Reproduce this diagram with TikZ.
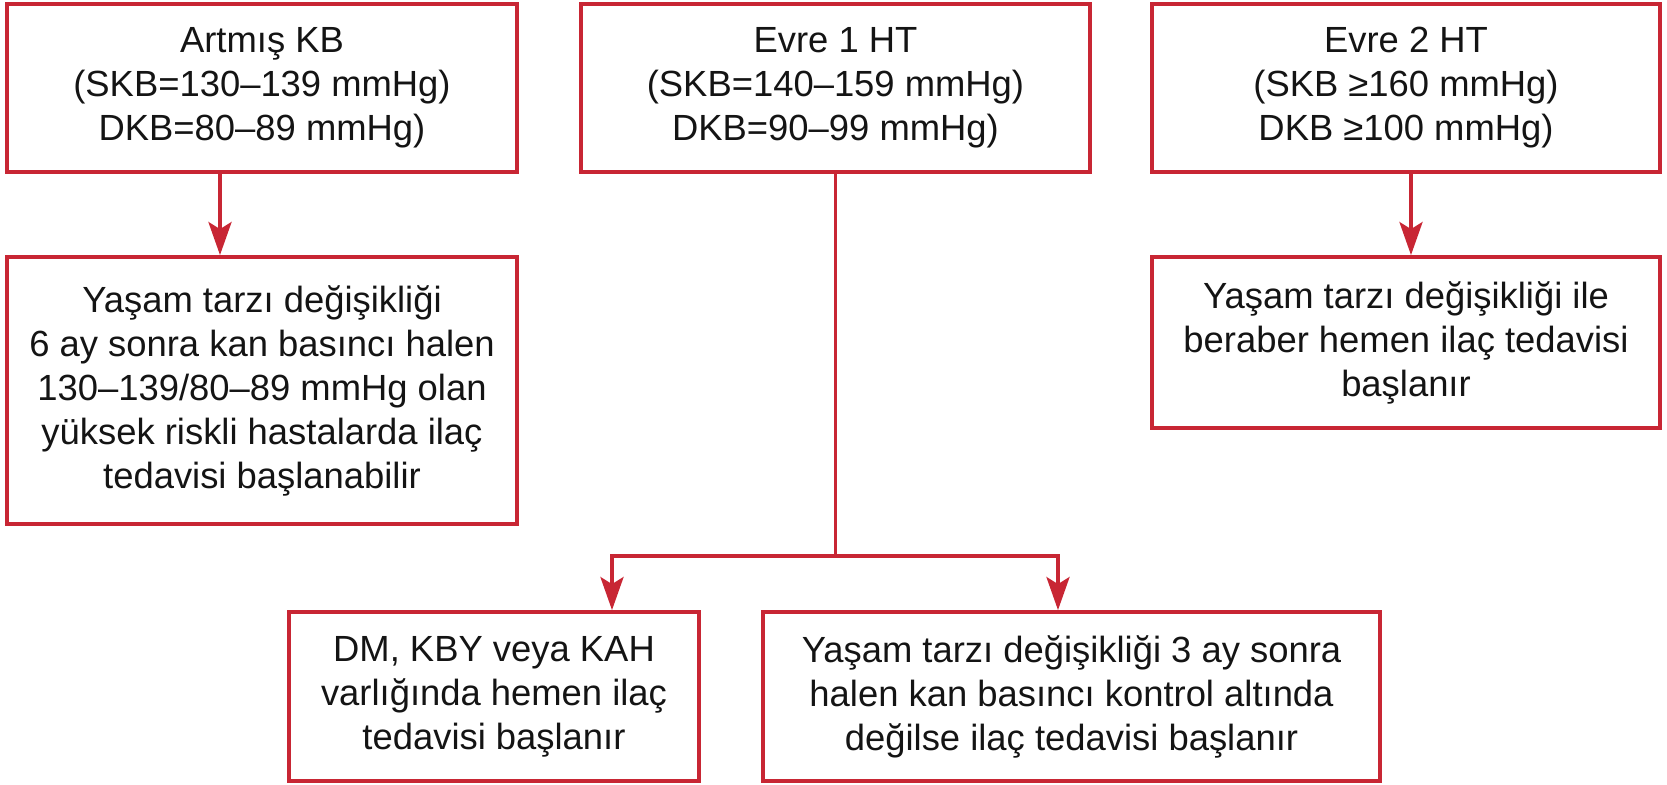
\documentclass[tikz,border=0pt]{standalone}
\usepackage{fontspec}
\setmainfont{Liberation Sans}
\usetikzlibrary{arrows.meta}
\definecolor{boxred}{RGB}{200,38,52}
\definecolor{txt}{RGB}{20,20,20}
\begin{document}
\begin{tikzpicture}[x=0.5pt,y=-0.5pt,
  box/.style={draw=boxred, line width=1.9pt, rectangle, inner sep=0pt, align=center,
    text=txt, font=\fontsize{18.2pt}{22pt}\selectfont},
  conn/.style={draw=boxred, line width=1.9pt, line join=miter},
  arr/.style={conn, -{Stealth[length=16.5pt, width=11.5pt, inset=3.5pt]}}]
\useasboundingbox (0,0) rectangle (1667,785);
\node[box, minimum width=255pt, minimum height=84pt] (A) at (262,88)
  {Artmış KB\\(SKB=130–139 mmHg)\\DKB=80–89 mmHg)};
\node[box, minimum width=254.5pt, minimum height=84pt] (E1) at (835.5,88)
  {Evre 1 HT\\(SKB=140–159 mmHg)\\DKB=90–99 mmHg)};
\node[box, minimum width=254pt, minimum height=84pt] (E2) at (1406,88)
  {Evre 2 HT\\(SKB ≥160 mmHg)\\DKB ≥100 mmHg)};
\node[box, minimum width=255pt, minimum height=133.5pt] (A2) at (262,390.5)
  {Yaşam tarzı değişikliği\\6 ay sonra kan basıncı halen\\130–139/80–89 mmHg olan\\yüksek riskli hastalarda ilaç\\tedavisi başlanabilir};
\node[box, minimum width=254pt, minimum height=85.5pt] (E2c) at (1406,342.5)
  {Yaşam tarzı değişikliği ile\\beraber hemen ilaç tedavisi\\başlanır};
\node[box, minimum width=205pt, minimum height=84.5pt] (DM) at (494,696.5)
  {DM, KBY veya KAH\\varlığında hemen ilaç\\tedavisi başlanır};
\node[box, minimum width=308.5pt, minimum height=84.5pt] (YT) at (1071.5,696.5)
  {Yaşam tarzı değişikliği 3 ay sonra\\halen kan basıncı kontrol altında\\değilse ilaç tedavisi başlanır};
\coordinate (ax) at (220,0);
\coordinate (ex) at (1411,0);
\coordinate (jn) at (835.5,556);
\coordinate (lx) at (612,0);
\coordinate (rx) at (1058,0);
\draw[arr] (A.south -| ax) -- (A2.north -| ax);
\draw[arr] (E2.south -| ex) -- (E2c.north -| ex);
\draw[conn] (E1.south) -- (jn);
\draw[arr] (jn) -| (DM.north -| lx);
\draw[arr] (jn) -| (YT.north -| rx);
\end{tikzpicture}
\end{document}
